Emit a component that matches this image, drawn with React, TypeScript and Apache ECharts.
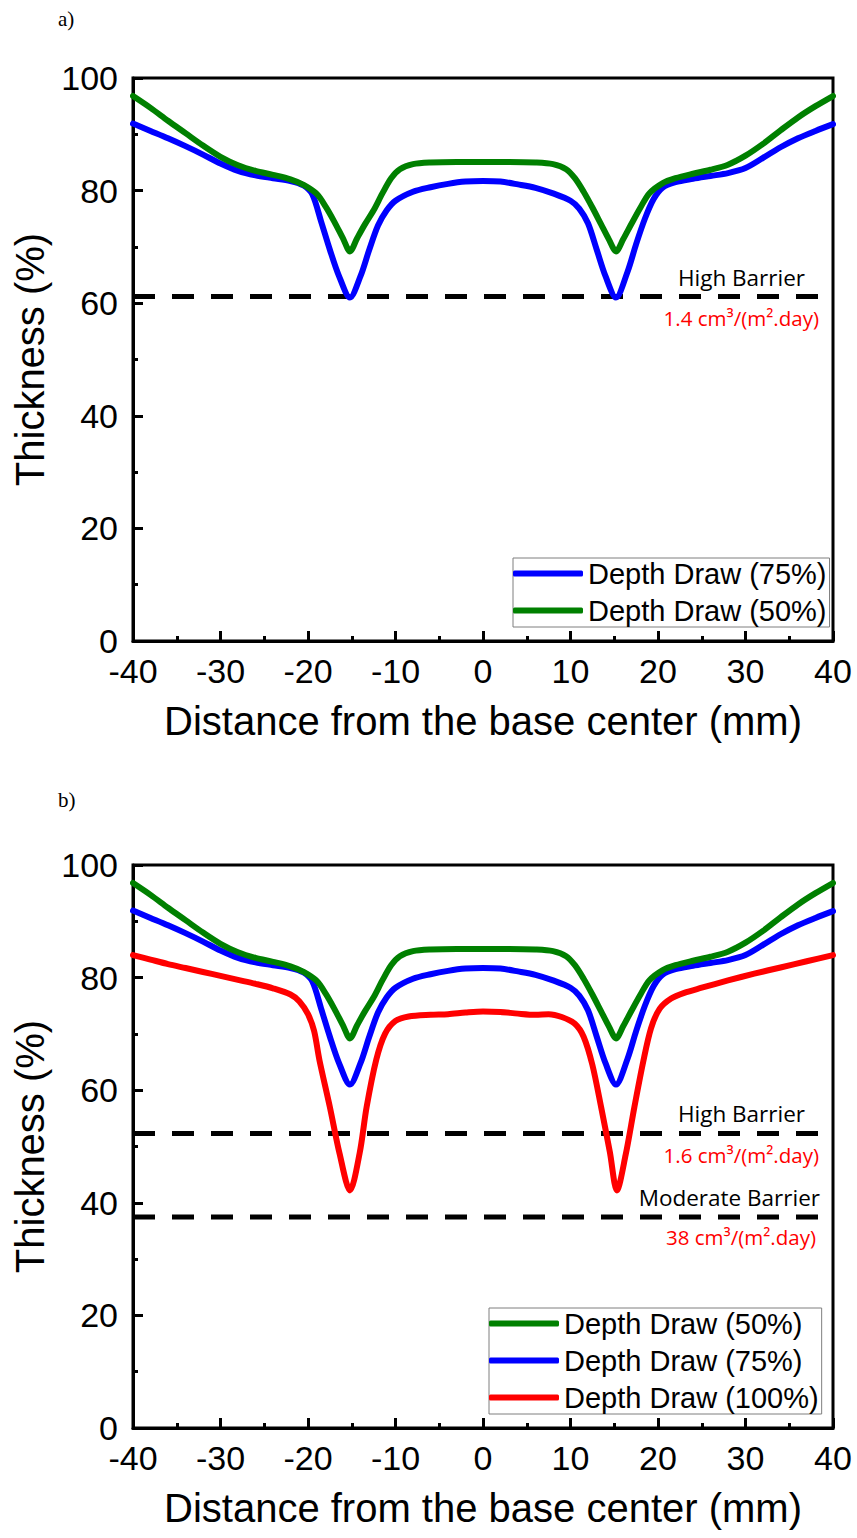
import React, { useEffect, useRef } from "react";
import * as echarts from "echarts";

// Depth Draw (50%) thickness profile
const dd50X = [-40, -38, -36, -34, -32, -30, -28, -26, -24, -22, -20.5, -19, -18, -17, -16, -15.2, -14.4, -13.5, -12.5, -11.5, -10.5, -9.5, -8, -6, -3, 0, 3, 6, 8, 9.5, 10.5, 11.5, 12.5, 13.5, 14.4, 15.2, 16, 17, 18, 19, 20.5, 22, 24, 26, 28, 30, 32, 34, 36, 38, 40];
const dd50Y = [96.8, 94.7, 92.4, 90.2, 88.0, 86.0, 84.5, 83.5, 82.8, 82.0, 81.0, 79.4, 77.2, 74.5, 71.5, 69.2, 71.5, 74.0, 76.5, 79.5, 82.2, 83.8, 84.7, 85.0, 85.1, 85.1, 85.1, 85.0, 84.7, 83.8, 82.2, 79.8, 77.0, 74.0, 71.3, 69.2, 71.3, 74.2, 77.0, 79.5, 81.3, 82.2, 83.0, 83.7, 84.6, 86.2, 88.3, 90.7, 93.0, 95.0, 96.8];

// Depth Draw (75%) thickness profile
const dd75X = [-40, -38, -36, -34, -32, -30, -28, -26, -24, -22, -20.5, -19.5, -18.5, -17.5, -16.5, -15.2, -14, -13, -12, -11, -10, -8, -6, -4, -2, 0, 2, 4, 6, 8, 10, 11, 12, 13, 14, 15.2, 16.5, 17.5, 18.5, 19.5, 20.5, 22, 24, 26, 28, 30, 32, 34, 36, 38, 40];
const dd75Y = [91.9, 90.6, 89.3, 87.9, 86.4, 84.8, 83.5, 82.7, 82.2, 81.7, 80.9, 79.3, 74.5, 69.5, 65.0, 61.0, 64.8, 69.5, 73.8, 76.5, 78.2, 79.8, 80.6, 81.2, 81.6, 81.7, 81.6, 81.1, 80.5, 79.5, 78.2, 76.8, 74.2, 69.5, 64.8, 61.0, 65.5, 70.5, 75.0, 78.5, 80.5, 81.5, 82.1, 82.6, 83.1, 84.0, 85.8, 87.7, 89.3, 90.6, 91.8];

// Depth Draw (100%) thickness profile
const dd100X = [-40, -38, -36, -34, -32, -30, -28, -26, -24, -22, -21, -20, -19.3, -18.7, -17.5, -16.4, -15.2, -14.1, -13.3, -12.2, -11.2, -10, -8.5, -6, -4, -2, 0, 2, 4, 6, 7.5, 9, 10.5, 11.5, 12.5, 13.5, 14.5, 15.3, 16.3, 17.3, 18.3, 19.2, 20.2, 21.5, 23, 25, 28, 31, 34, 37, 40];
const dd100Y = [84.0, 83.2, 82.4, 81.7, 81.0, 80.3, 79.6, 78.9, 78.1, 77.0, 75.8, 73.5, 70.5, 65.4, 57.0, 48.8, 42.2, 48.8, 57.0, 65.4, 70.0, 72.3, 73.1, 73.4, 73.5, 73.8, 74.0, 73.9, 73.6, 73.4, 73.5, 73.0, 71.8, 69.5, 64.5, 57.0, 49.0, 42.2, 48.5, 57.0, 65.0, 71.0, 74.5, 76.3, 77.3, 78.2, 79.5, 80.7, 81.8, 82.9, 84.0];

// Barrier thresholds (thickness %)
const barrierA = [61.2];
const barrierB = [52.3, 37.5];
const barrierSpanX = [-40, 38.5];

const nameDD50 = "Depth Draw (50%)";
const nameDD75 = "Depth Draw (75%)";
const nameDD100 = "Depth Draw (100%)";

const xTickInterval = 10;
const yTickInterval = 20;

const ARIAL = "Arial, 'Liberation Sans', sans-serif";
const LABEL_FONT = "'Open Sans', 'Noto Sans', sans-serif";

const pairs = (xs: number[], ys: number[]) => xs.map((x, i) => [x, ys[i]]);

function curve(name: string, xs: number[], ys: number[], color: string, idx: number) {
  return {
    name,
    type: "line",
    xAxisIndex: idx,
    yAxisIndex: idx,
    data: pairs(xs, ys),
    showSymbol: false,
    symbol: "none",
    smooth: 0.3,
    lineStyle: { color, width: 6, cap: "round", join: "round" },
    itemStyle: { color },
    z: 3,
  };
}

function dashed(value: number, idx: number) {
  return {
    name: "barrier",
    type: "line",
    xAxisIndex: idx,
    yAxisIndex: idx,
    data: barrierSpanX.map((x) => [x, value]),
    symbol: "none",
    silent: true,
    lineStyle: { color: "#000", width: 5, type: [22, 17] },
    z: 2,
  };
}

function xAxisFor(idx: number) {
  return {
    type: "value",
    gridIndex: idx,
    min: -40,
    max: 40,
    interval: xTickInterval,
    name: "Distance from the base center (mm)",
    nameLocation: "middle",
    nameGap: 60,
    nameTextStyle: { fontFamily: ARIAL, fontSize: 40, color: "#000" },
    axisLine: { show: true, onZero: false, lineStyle: { color: "#000", width: 3 } },
    axisTick: { show: true, inside: true, length: 10, lineStyle: { width: 3, color: "#000" } },
    minorTick: { show: true, splitNumber: 2, length: 5, lineStyle: { width: 3, color: "#000" } },
    splitLine: { show: false },
    axisLabel: { fontFamily: ARIAL, fontSize: 34, color: "#000", margin: 13, showMinLabel: true, showMaxLabel: true },
  };
}

function yAxisFor(idx: number) {
  return {
    type: "value",
    gridIndex: idx,
    min: 0,
    max: 100,
    interval: yTickInterval,
    name: "Thickness (%)",
    nameLocation: "middle",
    nameGap: 78,
    nameTextStyle: { fontFamily: ARIAL, fontSize: 40, color: "#000" },
    axisLine: { show: true, onZero: false, lineStyle: { color: "#000", width: 3 } },
    axisTick: { show: true, inside: true, length: 10, lineStyle: { width: 3, color: "#000" } },
    minorTick: { show: true, splitNumber: 2, length: 5, lineStyle: { width: 3, color: "#000" } },
    splitLine: { show: false },
    axisLabel: { fontFamily: ARIAL, fontSize: 34, lineHeight: 24, color: "#000", margin: 15, showMinLabel: true, showMaxLabel: true },
  };
}

function legendFor(names: string[], left: number, top: number) {
  return {
    data: names,
    orient: "vertical",
    left,
    top,
    padding: [1, 3, 2, 0],
    itemGap: 8,
    itemWidth: 70,
    itemHeight: 6,
    icon: "roundRect",
    borderColor: "#7f7f7f",
    borderWidth: 1,
    backgroundColor: "#fff",
    selectedMode: false,
    textStyle: { fontFamily: ARIAL, fontSize: 29, color: "#000" },
  };
}

function txt(text: string, x: number, y: number, color: string, size: number) {
  return {
    type: "text",
    x,
    y,
    silent: true,
    style: { text, fill: color, font: `${size}px ${LABEL_FONT}`, align: "right", verticalAlign: "middle" },
    z: 10,
  };
}

export default function App() {
  const ref = useRef<HTMLDivElement>(null);
  useEffect(() => {
    document.body.style.margin = "0";
    const chart = echarts.init(ref.current!, null, { renderer: "svg" });
    chart.setOption({
      animation: false,
      backgroundColor: "#fff",
      grid: [
        { left: 133, top: 78, width: 700, height: 563, show: true, borderColor: "#000", borderWidth: 3, backgroundColor: "transparent" },
        { left: 133, top: 865, width: 700, height: 563, show: true, borderColor: "#000", borderWidth: 3, backgroundColor: "transparent" },
      ],
      xAxis: [xAxisFor(0), xAxisFor(1)],
      yAxis: [yAxisFor(0), yAxisFor(1)],
      legend: [
        legendFor([nameDD75, nameDD50], 513, 558),
        legendFor([nameDD50, nameDD75, nameDD100], 489, 1308),
      ],
      series: [
        dashed(barrierA[0], 0),
        curve(nameDD75, dd75X, dd75Y, "#0000ff", 0),
        curve(nameDD50, dd50X, dd50Y, "#008000", 0),
        dashed(barrierB[0], 1),
        dashed(barrierB[1], 1),
        curve(nameDD100, dd100X, dd100Y, "#ff0000", 1),
        curve(nameDD75, dd75X, dd75Y, "#0000ff", 1),
        curve(nameDD50, dd50X, dd50Y, "#008000", 1),
      ],
      graphic: [
        {
          type: "text", x: 58, y: 8, silent: true,
          style: { text: "a)", fill: "#000", font: "21px 'Liberation Serif', 'Times New Roman', serif", align: "left", verticalAlign: "top" },
        },
        {
          type: "text", x: 58, y: 789, silent: true,
          style: { text: "b)", fill: "#000", font: "21px 'Liberation Serif', 'Times New Roman', serif", align: "left", verticalAlign: "top" },
        },
        txt("High Barrier", 805, 277, "#000", 22.5),
        txt("1.4 cm³/(m².day)", 819, 318, "#ff0000", 20.5),
        txt("High Barrier", 805, 1113, "#000", 22.5),
        txt("1.6 cm³/(m².day)", 819, 1155, "#ff0000", 20.5),
        txt("Moderate Barrier", 820, 1197, "#000", 22.5),
        txt("38 cm³/(m².day)", 816, 1237, "#ff0000", 20.5),
      ],
    });
    return () => chart.dispose();
  }, []);
  return <div ref={ref} style={{ width: 857, height: 1538 }} />;
}
